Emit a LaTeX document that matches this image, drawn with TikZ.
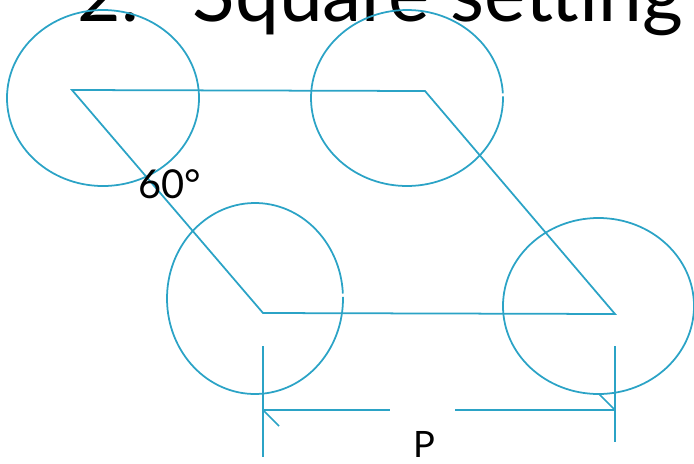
\documentclass[tikz,border=0pt]{standalone}
\usepackage{fontspec}
\setmainfont{Lato}
\usetikzlibrary{calc}
\definecolor{pitchline}{RGB}{43,163,198}

\begin{document}
\begin{tikzpicture}[x=0.03cm,y=-0.03cm,line width=1.5pt]
\tikzset{
  wire/.style={pitchline},
  lbl/.style={inner sep=0pt,text=black}
}
\useasboundingbox (0,0) rectangle (694,463);
% ================= title (cut at top) =================
\node[lbl,anchor=base west,font=\fontsize{64}{64}\selectfont] (num) at (77,21) {2.};
\node[lbl,anchor=base east,font=\fontsize{67}{67}\selectfont] (title) at (684,21) {Square setting};
% ================= corners of the pitch =================
\coordinate (tl) at (72,90);
\coordinate (tr) at (425,91);
\coordinate (br) at (615,314);
\coordinate (bl) at (263,313);
% ================= the four bolts =================
\draw[wire] (103,98) ellipse [x radius=96, y radius=88];
\draw[wire] (407,98) ++(-1:96 and 88) arc [start angle=-1, end angle=357, x radius=96, y radius=88];
\draw[wire] (255,298.5) ++(-1:88 and 95.5) arc [start angle=-1, end angle=357, x radius=88, y radius=95.5];
\draw[wire] (598.5,306) ellipse [x radius=95.5, y radius=88];
% parallelogram
\draw[wire] (tl) -- (tr) -- (br) -- (bl) -- cycle;
\node[lbl,font=\fontsize{34}{34}\selectfont] (ang) at (170,184) {60°};
% ================= dimension P =================
\coordinate (el1) at (263,346);
\coordinate (el2) at (263,457);
\coordinate (er1) at (615,346);
\coordinate (er2) at (615,442);
\coordinate (dl) at (263,410);
\coordinate (dr) at (615,410);
\draw[wire] (el1) -- (el2);
\draw[wire] (er1) -- (er2);
\node[lbl,font=\fontsize{31}{31}\selectfont] (pitch) at (424,444) {P};
\draw[wire] (dl) -- (390,410);
\draw[wire] (455,410) -- (dr);
\draw[wire] (dl) -- ++(16,16);
\draw[wire] (dr) -- ++(-16,-16);
\end{tikzpicture}
\end{document}
